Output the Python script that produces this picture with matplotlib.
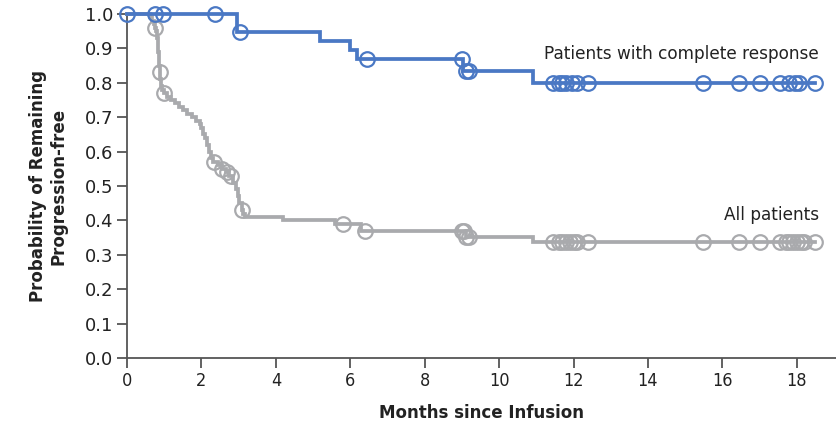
"""
Kaplan-Meier style progression-free curves, all patients vs complete responders.
"""
import numpy as np
import matplotlib
matplotlib.use('Agg')
import matplotlib.pyplot as plt

# all patients: step times and survival level after each step
all_t = [0.0, 0.62, 0.68, 0.72, 0.74, 0.78, 0.80, 0.82, 0.84, 0.86, 0.87, 0.88, 0.89,
         0.92, 0.95, 1.0, 1.08, 1.18, 1.3, 1.4, 1.5, 1.6, 1.75, 1.85, 1.95, 2.0, 2.05,
         2.1, 2.15, 2.2, 2.25, 2.3, 2.45, 2.55, 2.65, 2.75, 2.85, 2.92, 2.97, 3.02,
         3.08, 3.12, 3.18, 4.2, 5.6, 6.3, 9.1, 10.9]
all_s = [1.0, 0.99, 0.98, 0.97, 0.96, 0.95, 0.93, 0.91, 0.89, 0.87, 0.85, 0.83, 0.81,
         0.79, 0.78, 0.77, 0.76, 0.75, 0.74, 0.73, 0.72, 0.71, 0.70, 0.69, 0.68, 0.67,
         0.65, 0.64, 0.62, 0.60, 0.58, 0.57, 0.56, 0.55, 0.54, 0.53, 0.51, 0.49, 0.47,
         0.45, 0.43, 0.42, 0.41, 0.40, 0.39, 0.37, 0.353, 0.338]
all_cens = [0.76, 0.885, 1.0, 2.35, 2.55, 2.7, 2.8, 3.1, 5.8, 6.4, 9.0, 9.05, 9.12,
            9.2, 11.45, 11.6, 11.7, 11.8, 11.9, 12.0, 12.1, 12.4, 15.48, 16.45, 17.0,
            17.56, 17.7, 17.8, 17.9, 18.0, 18.1, 18.2, 18.5]

# complete responders
cr_t = [0.0, 2.96, 5.19, 6.0, 6.18, 9.04, 10.9]
cr_s = [1.0, 0.947, 0.921, 0.895, 0.868, 0.835, 0.80]
cr_cens = [0.0, 0.75, 0.97, 2.37, 3.04, 6.45, 9.0, 9.1, 9.2, 11.45, 11.6, 11.7, 11.8,
           11.95, 12.1, 12.4, 15.48, 16.45, 17.0, 17.56, 17.8, 17.95, 18.05, 18.5]

t_end = 18.5

x_ticks = [0, 2, 4, 6, 8, 10, 12, 14, 16, 18]
y_ticks = [0.0, 0.1, 0.2, 0.3, 0.4, 0.5, 0.6, 0.7, 0.8, 0.9, 1.0]

BLUE = '#4a78c4'
GRAY = '#a9aaad'
AXC = '#555555'
TXT = '#222222'


def step_value(times, surv, x):
    idx = np.searchsorted(times, x, side='right') - 1
    return np.array(surv)[idx]


def draw_curve(ax, times, surv, cens, color):
    xs = list(times) + [t_end]
    ys = list(surv) + [surv[-1]]
    ax.step(xs, ys, where='post', color=color, linewidth=2.7, clip_on=False,
            solid_joinstyle='miter', zorder=3)
    cy = step_value(times, surv, np.array(cens))
    ax.plot(cens, cy, linestyle='none', marker='o', markersize=10.5,
            markerfacecolor='none', markeredgecolor=color, markeredgewidth=1.6,
            clip_on=False, zorder=4)


fig = plt.figure(figsize=(8.37, 4.37), dpi=100)
ax = fig.add_axes([127 / 837, 1 - 358 / 437, 1 - 127 / 837, (358 - 14) / 437])

draw_curve(ax, all_t, all_s, all_cens, GRAY)
draw_curve(ax, cr_t, cr_s, cr_cens, BLUE)

ax.set_xlim(0, 19.08)
ax.set_ylim(0, 1.0)
ax.set_xticks(x_ticks)
ax.set_yticks(y_ticks)
ax.set_yticklabels(['{:.1f}'.format(v) for v in y_ticks])

for side in ['top', 'right']:
    ax.spines[side].set_visible(False)
for side in ['left', 'bottom']:
    ax.spines[side].set_color(AXC)
    ax.spines[side].set_linewidth(1.3)

ax.tick_params(axis='both', direction='out', length=7, width=1.3, color=AXC,
               labelsize=13, labelcolor=TXT, pad=3)
for lbl in ax.get_xticklabels():
    lbl.set_fontstretch('condensed')

ax.set_xlabel('Months since Infusion', fontsize=12, fontweight='bold',
              color=TXT, labelpad=10)
ax.set_ylabel('Probability of Remaining\nProgression-free', fontsize=12,
              fontweight='bold', color=TXT, labelpad=12)

ax.text(18.6, 0.885, 'Patients with complete response', fontsize=12.2,
        color=TXT, ha='right', va='center')
ax.text(18.6, 0.415, 'All patients', fontsize=12.2, color=TXT,
        ha='right', va='center')

fig.savefig('out.png', dpi=100)
plt.close(fig)
